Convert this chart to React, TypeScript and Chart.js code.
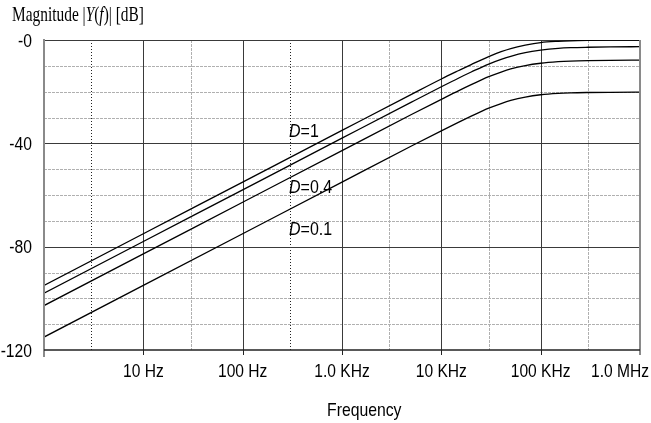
import React, { useEffect, useRef } from 'react';
import { Chart, registerables } from 'chart.js';
Chart.register(...registerables);

// Frequencies (Hz) at which the curves are sampled
const freqs = [1, 10, 100, 1000, 5000, 10000, 15000, 20000, 30000, 40000, 50000, 70000, 100000, 150000, 200000, 300000, 500000, 1000000];
// Magnitude curves in dB (top to bottom)
const curveA = [-95, -75, -55, -35, -21.05, -15.1, -11.8, -9.5, -6.4, -4.5, -3.3, -2.0, -1.0, -0.5, -0.3, -0.15, -0.05, 0];
const curveB = [-98, -78, -58, -38, -24.05, -18.1, -14.7, -12.4, -9.3, -7.5, -6.3, -4.9, -3.95, -3.25, -2.98, -2.8, -2.67, -2.6];
const curveC = [-102.8, -82.8, -62.8, -42.8, -28.85, -23.0, -19.6, -17.3, -14.2, -12.4, -11.2, -9.9, -9.0, -8.4, -8.15, -7.97, -7.86, -7.8];
const curveD = [-115, -95, -75, -55, -41.05, -35.15, -31.8, -29.5, -26.4, -24.6, -23.4, -22.1, -21.2, -20.65, -20.45, -20.32, -20.24, -20.2];
const curves = [curveA, curveB, curveC, curveD];

// Axis ticks
const decadeTicks = [1, 10, 100, 1000, 10000, 100000, 1000000];
const decadeLabels = ['', '10 Hz', '100 Hz', '1.0 KHz', '10 KHz', '100 KHz', '1.0 MHz'];
const minorFreqLight = [30, 3000, 30000, 300000];
const minorFreqDark = [3, 300];
const yMajorTicks = [0, -40, -80, -120];
const yTickLabels = ['-0', '-40', '-80', '-120'];
const yMinorGrid = [-10, -20, -30, -50, -60, -70, -90, -100, -110];

// Curve annotations
const annotValues = ['=1', '=0.4', '=0.1'];
const annotFreq = [293, 293, 293];
const annotDb = [-37.5, -59.2, -75.5];

const yTitleParts = [
  { t: 'Magnitude |' },
  { t: 'Y', italic: true },
  { t: '(' },
  { t: 'f', italic: true },
  { t: ')| [dB]' },
];
const xTitle = 'Frequency';

const SANS = "'Liberation Sans', Arial, sans-serif";
const SERIF = "'Liberation Serif', 'Times New Roman', serif";

function condensedText(ctx: any, parts: { t: string; italic?: boolean }[], x: number, y: number, size: number, sx: number, align: 'left' | 'right' | 'center', family = SANS, maxRight = 10000) {
  ctx.save();
  let w = 0;
  for (const p of parts) {
    ctx.font = `${p.italic ? 'italic ' : ''}${size}px ${family}`;
    w += ctx.measureText(p.t).width;
  }
  const ws = w * sx;
  let left = align === 'left' ? x : align === 'right' ? x - ws : x - ws / 2;
  if (left + ws > maxRight) left = maxRight - ws;
  ctx.translate(left, y);
  ctx.scale(sx, 1);
  ctx.textAlign = 'left';
  let off = 0;
  for (const p of parts) {
    ctx.font = `${p.italic ? 'italic ' : ''}${size}px ${family}`;
    ctx.fillText(p.t, off, 0);
    off += ctx.measureText(p.t).width;
  }
  ctx.restore();
}

const drawPlugin = {
  id: 'bodeDecor',
  beforeDatasetsDraw(chart: any) {
    const { ctx, chartArea: a, scales } = chart;
    const x = scales.x, y = scales.y;
    const hLine = (py: number) => { ctx.beginPath(); ctx.moveTo(a.left, py); ctx.lineTo(a.right, py); ctx.stroke(); };
    const vLine = (px: number) => { ctx.beginPath(); ctx.moveTo(px, a.top); ctx.lineTo(px, a.bottom); ctx.stroke(); };
    ctx.save();
    ctx.lineWidth = 1;
    ctx.strokeStyle = '#b0b0b0';
    ctx.setLineDash([3, 1]);
    for (const v of yMinorGrid) hLine(Math.round(y.getPixelForValue(v)) + 0.5);
    for (const f of minorFreqLight) vLine(Math.round(x.getPixelForValue(f)) + 0.5);
    ctx.strokeStyle = '#222';
    ctx.setLineDash([1, 2]);
    for (const f of minorFreqDark) vLine(Math.round(x.getPixelForValue(f)) + 0.5);
    ctx.setLineDash([]);
    ctx.strokeStyle = '#3a3a3a';
    for (const v of yMajorTicks.slice(0, 3)) hLine(Math.round(y.getPixelForValue(v)) + 0.5);
    for (const f of decadeTicks.slice(1, 6)) vLine(Math.round(x.getPixelForValue(f)) + 0.5);
    ctx.restore();
  },
  afterDatasetsDraw(chart: any) {
    const { ctx, chartArea: a, scales } = chart;
    const x = scales.x, y = scales.y;
    ctx.save();
    // right border
    ctx.strokeStyle = '#8a8a8a';
    ctx.lineWidth = 2;
    ctx.beginPath(); ctx.moveTo(a.right, a.top); ctx.lineTo(a.right, a.bottom + 5); ctx.stroke();
    // left axis
    ctx.beginPath(); ctx.moveTo(a.left, a.top - 1); ctx.lineTo(a.left, a.bottom + 7); ctx.stroke();
    // bottom axis
    ctx.strokeStyle = '#222';
    ctx.lineWidth = 1.5;
    ctx.beginPath(); ctx.moveTo(a.left, a.bottom); ctx.lineTo(a.right, a.bottom); ctx.stroke();
    // tick marks
    ctx.lineWidth = 1;
    for (const f of decadeTicks.slice(1, 6)) {
      const px = Math.round(x.getPixelForValue(f)) + 0.5;
      ctx.beginPath(); ctx.moveTo(px, a.bottom); ctx.lineTo(px, a.bottom + 5); ctx.stroke();
    }
    ctx.fillStyle = '#000';
    ctx.textBaseline = 'alphabetic';
    // y tick labels
    yMajorTicks.forEach((v, i) => {
      const py = y.getPixelForValue(v);
      condensedText(ctx, [{ t: yTickLabels[i] }], 32, py + 6.5, 18, 0.87, 'right');
    });
    // x tick labels
    decadeTicks.forEach((f, i) => {
      const t = decadeLabels[i];
      if (!t) return;
      condensedText(ctx, [{ t }], x.getPixelForValue(f), a.bottom + 27, 19, 0.82, 'center', SANS, 649);
    });
    // x title
    condensedText(ctx, [{ t: xTitle }], 327, 416, 19, 0.83, 'left');
    // curve annotations
    annotValues.forEach((t, i) => {
      const px = x.getPixelForValue(annotFreq[i]);
      const py = y.getPixelForValue(annotDb[i]);
      condensedText(ctx, [{ t: 'D', italic: true }, { t }], px, py, 19, 0.84, 'left');
    });
    // y title (condensed serif)
    condensedText(ctx, yTitleParts, 12, 21, 22, 0.7, 'left', SERIF);
    ctx.restore();
  },
};

export default function App() {
  const ref = useRef<HTMLCanvasElement | null>(null);
  useEffect(() => {
    if (!ref.current) return;
    const chart = new Chart(ref.current, {
      type: 'line',
      data: {
        datasets: curves.map((c) => ({
          data: freqs.map((f, i) => ({ x: f, y: c[i] })),
          borderColor: '#000',
          borderWidth: 1.3,
          pointRadius: 0,
          fill: false,
          cubicInterpolationMode: 'monotone' as const,
        })),
      },
      options: {
        responsive: false,
        animation: false,
        events: [],
        layout: { padding: { top: 40, right: 11, left: 0, bottom: 0 } },
        plugins: { legend: { display: false }, tooltip: { enabled: false }, title: { display: false } },
        scales: {
          x: {
            type: 'logarithmic',
            min: 1,
            max: 1000000,
            grid: { display: false, drawTicks: false },
            border: { display: false },
            ticks: { display: false },
            afterFit: (s: any) => { s.height = 73; s.paddingLeft = 0; s.paddingRight = 0; },
          },
          y: {
            min: -120,
            max: 0,
            grid: { display: false, drawTicks: false },
            border: { display: false },
            ticks: { display: false },
            afterFit: (s: any) => { s.width = 44; s.paddingTop = 0; s.paddingBottom = 0; },
          },
        },
      },
      plugins: [drawPlugin],
    } as any);
    return () => chart.destroy();
  }, []);
  return (
    <div style={{ position: 'absolute', left: 0, top: 0, width: 651, height: 423, background: '#fff' }}>
      <canvas ref={ref} width={651} height={423} style={{ display: 'block' }} />
    </div>
  );
}
